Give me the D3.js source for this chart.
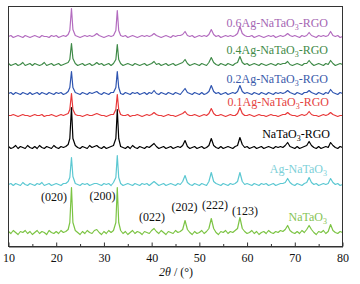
<!DOCTYPE html>
<html><head><meta charset="utf-8">
<script src="https://cdn.jsdelivr.net/npm/d3@7"></script>
<style>
html,body{margin:0;padding:0;background:#fff;}
svg{display:block;font-family:"Liberation Serif","Times New Roman",serif;}
</style></head>
<body><svg id="c" width="360" height="284"></svg>
<script>
// 2θ sample positions (degrees)
const twoTheta = [
10,10.5,11,11.5,12,12.5,13,13.5,14,14.5,15,15.5,16,16.5,17,17.5,18,18.5,19,19.5,20,20.5,21,21.5,22,22.5,
22.85,23.2,23.5,
24,24.5,25,25.5,26,26.5,27,27.5,28,28.5,29,29.5,30,30.5,31,31.5,32,
32.5,32.8,33.1,
33.5,34,34.5,35,35.5,36,36.5,37,37.5,38,38.5,39,39.5,40,
40.5,41,41.5,42,42.5,43,43.5,44,44.5,45,45.5,46,46.5,47,47.5,48,48.5,49,49.5,50,
50.5,51,51.5,52,52.5,53,53.5,54,54.5,55,55.5,56,56.5,57,57.5,58,58.5,59,59.5,60,
60.5,61,61.5,62,62.5,63,63.5,64,64.5,65,65.5,66,66.5,67,67.5,68,68.5,69,69.5,70,
70.5,71,71.5,72,72.5,73,73.5,74,74.5,75,75.5,76,76.5,77,77.5,78,78.5,79,79.5,80];

const seriesNames = ["0.6Ag-NaTaO3-RGO","0.4Ag-NaTaO3-RGO","0.2Ag-NaTaO3-RGO","0.1Ag-NaTaO3-RGO","NaTaO3-RGO","Ag-NaTaO3","NaTaO3"];
const seriesOffsets = [210,182,153,131,99,62,14];

const ag06 = [
0,1,-1,0,1,0,-1,1,0,-1,0,1,0,-1,1,0,0,-1,1,0,1,-1,0,1,0,2,
6,28,7,
1,0,-1,0,1,0,1,0,1,3,1,0,-1,0,1,0,1,
6,26,6,
1,0,1,-1,0,1,0,-1,0,1,0,1,0,1,
3,1,0,-1,0,1,0,-1,1,0,1,1,2,5,1,0,1,-1,0,1,
0,1,0,2,7,2,0,1,-1,0,1,0,1,0,1,3,10,3,1,0,
0,1,-1,0,1,0,-1,0,1,0,1,-1,0,1,0,1,3,1,0,1,
0,-1,1,0,1,4,1,0,-1,1,0,1,0,1,5,1,0,1,-1,0];
const ag04 = [
1,-1,0,1,-1,0,2,-1,0,1,-1,1,0,-1,0,2,-1,0,1,-1,0,1,-1,0,1,2,
5,21,6,
1,-1,0,1,-1,0,1,-1,0,2,0,1,-1,0,1,-1,1,
5,20,5,
1,-1,0,1,0,-1,1,0,-1,0,1,-1,0,1,
3,0,1,-1,0,1,-1,0,1,-1,0,1,2,5,1,-1,0,1,0,-1,
1,0,-1,2,7,2,0,-1,1,0,-1,1,0,-1,1,2,8,2,0,1,
-1,0,1,0,-1,1,0,-1,0,1,0,-1,1,0,1,1,3,0,-1,0,
1,0,-1,1,1,4,1,-1,0,1,0,-1,1,0,4,1,-1,0,1,0];
const ag02 = [
0,1,-1,1,0,-1,1,0,-1,1,-1,0,1,-1,1,0,-1,1,0,-1,1,0,1,-1,0,2,
6,22,6,
1,0,-1,1,0,-1,1,0,1,2,0,-1,1,0,-1,1,1,
6,22,6,
0,-1,1,0,-1,1,0,1,-1,0,1,-1,1,0,
3,0,-1,1,0,-1,1,0,-1,1,0,-1,2,5,1,0,-1,1,0,-1,
1,-1,0,2,8,2,0,1,-1,0,1,-1,0,1,0,2,8,2,0,1,
0,-1,1,0,-1,1,0,-1,1,0,-1,1,0,1,0,1,3,1,0,-1,
1,0,-1,1,1,3,1,0,-1,1,0,-1,1,0,4,1,0,-1,1,0];
const ag01 = [
0,0,1,0,-1,0,1,0,0,-1,0,1,0,0,1,-1,0,0,1,0,-1,0,1,0,1,2,
6,22,6,
1,0,0,-1,0,1,0,0,1,2,1,0,0,-1,0,1,1,
6,21,6,
1,0,0,1,-1,0,0,1,0,-1,0,1,0,1,
3,1,0,0,-1,0,1,0,0,-1,0,1,2,4,1,0,0,1,0,-1,
0,1,0,2,7,2,0,0,1,0,-1,0,1,0,0,2,8,2,0,0,
1,0,-1,0,1,0,0,-1,0,1,0,0,-1,0,1,1,3,1,0,0,
-1,0,1,0,1,4,1,0,0,-1,0,1,0,1,3,1,0,-1,0,0];
const rgo = [
1,-1,0,2,-1,1,0,-1,2,0,-1,1,-1,2,0,-1,1,0,-1,2,0,-1,1,0,1,3,
9,40,9,
2,0,-1,1,0,-1,2,0,1,2,0,-1,1,-1,0,1,2,
9,38,9,
1,0,-1,1,-1,2,0,-1,1,0,-1,1,0,2,
4,1,-1,0,1,-1,0,1,-1,0,1,0,2,7,1,-1,0,1,-1,0,
1,-1,0,2,9,2,0,-1,1,-1,0,1,0,-1,1,2,10,3,0,1,
-1,0,1,-1,0,1,-1,0,1,0,-1,1,0,1,0,2,5,1,0,-1,
1,-1,0,1,2,6,2,0,-1,1,-1,0,1,0,5,2,0,-1,1,0];
const agNt = [
0,1,-1,1,0,-1,2,0,-1,1,0,-1,1,0,2,-1,0,1,-1,0,1,0,-1,1,1,3,
7,27,8,
1,0,-1,1,0,1,-1,0,1,1,0,-1,1,0,1,-1,2,
7,29,7,
1,-1,0,1,0,-1,1,0,-1,1,0,1,-1,1,
3,1,-1,0,1,-1,0,1,0,-1,1,0,3,9,2,0,-1,1,0,-1,
1,0,-1,3,12,3,1,0,-1,1,0,-1,1,0,1,3,12,3,0,1,
0,-1,1,0,-1,1,0,1,-1,0,1,-1,0,1,1,2,6,2,0,-1,
1,0,-1,1,2,7,2,0,1,-1,0,1,0,1,6,2,0,1,-1,0];
const nt = [
1,-1,2,0,-2,1,0,2,-1,1,-2,0,2,-1,1,0,-2,2,0,-1,1,-1,2,0,1,3,
10,45,10,
2,0,-2,1,-1,2,0,-1,2,3,0,-2,1,-1,2,0,2,
10,45,10,
2,-1,1,-2,0,2,-1,1,0,-2,1,0,-1,2,
4,1,-1,2,0,-2,1,0,-1,2,0,1,3,12,3,0,-2,1,-1,0,
2,-1,1,4,14,4,0,-2,1,0,2,-1,1,0,2,4,15,4,1,-1,
0,2,-1,1,-2,0,1,-1,2,0,-1,1,0,2,1,3,7,2,0,-1,
1,-1,2,0,3,7,3,0,-2,1,0,2,-1,1,8,2,0,-1,1,0];
const seriesValues = [ag06, ag04, ag02, ag01, rgo, agNt, nt];
const seriesColors = ["#b36cbf","#3f8a48","#2f55b0","#e8393a","#000000","#5cc8d2","#7cc444"];
const labelColors  = ["#a566b3","#3f8a48","#3a5aaa","#e5443f","#000000","#7dd0d8","#86c455"];

const xTicks = [10,20,30,40,50,60,70,80];
const xMinorTicks = [15,25,35,45,55,65,75];

const hklLabels = ["(020)","(200)","(022)","(202)","(222)","(123)"];
const hklPos = [54,102.5,152,184.5,215,245];   // label centre, pixel
const hklY = [201,200,221,210.5,209,215];

const W=360,H=284;
const L=8.5,R=342.5,T=6.5,B=246.5;
const svg=d3.select("#c");
const x=d3.scaleLinear().domain([10,80]).range([L,R]);
const y=d3.scaleLinear().domain([0,240]).range([B,T]);

const line=d3.line().x(d=>x(d[0])).y(d=>y(d[1]));
seriesValues.forEach((vals,i)=>{
  const pts=twoTheta.map((t,k)=>[t,vals[k]+seriesOffsets[i]]);
  svg.append("path").attr("d",line(pts)).attr("fill","none")
    .attr("stroke",seriesColors[i]).attr("stroke-width",1.2).attr("stroke-linejoin","round");
});

// frame
svg.append("rect").attr("x",L).attr("y",T).attr("width",R-L).attr("height",B-T)
  .attr("fill","none").attr("stroke","#333").attr("stroke-width",1);

// axis
const ax=svg.append("g").attr("transform",`translate(0,${B})`)
  .call(d3.axisBottom(x).tickValues(xTicks).tickSizeInner(-4).tickSizeOuter(0).tickPadding(7).tickFormat(d3.format("d")));
ax.select(".domain").attr("stroke","#333");
ax.selectAll(".tick line").attr("stroke","#333");
ax.selectAll(".tick text").attr("font-size",12).attr("fill","#111").attr("font-family","Liberation Serif, Times New Roman, serif");
svg.append("g").attr("transform",`translate(0,${B})`)
  .call(d3.axisBottom(x).tickValues(xMinorTicks).tickSizeInner(-2.5).tickSizeOuter(0).tickFormat(""))
  .call(g=>g.select(".domain").remove())
  .selectAll(".tick line").attr("stroke","#333");

// axis title
const tt=svg.append("text").attr("x",176).attr("y",276).attr("text-anchor","middle")
  .attr("font-size",12).attr("fill","#111");
tt.append("tspan").attr("font-style","italic").text("2θ");
tt.append("tspan").text(" / (°)");

// series labels
const labY=[27,54,83,105.5,137.5,173,221];
const labR=[328,328,328,329,330,327,327];
seriesNames.forEach((n,i)=>{
  const t=svg.append("text").attr("x",labR[i]).attr("y",labY[i]).attr("text-anchor","end")
    .attr("font-size",12).attr("fill",labelColors[i]);
  const parts=n.split("3");
  t.append("tspan").text(parts[0]);
  t.append("tspan").attr("font-size",8).attr("dy",3).text("3");
  if(parts[1]) t.append("tspan").attr("dy",-3).text(parts[1]);
});

// hkl labels
hklLabels.forEach((h,i)=>{
  svg.append("text").attr("x",hklPos[i]).attr("y",hklY[i]).attr("text-anchor","middle")
    .attr("font-size",12).attr("fill","#111").text(h);
});
</script></body></html>
